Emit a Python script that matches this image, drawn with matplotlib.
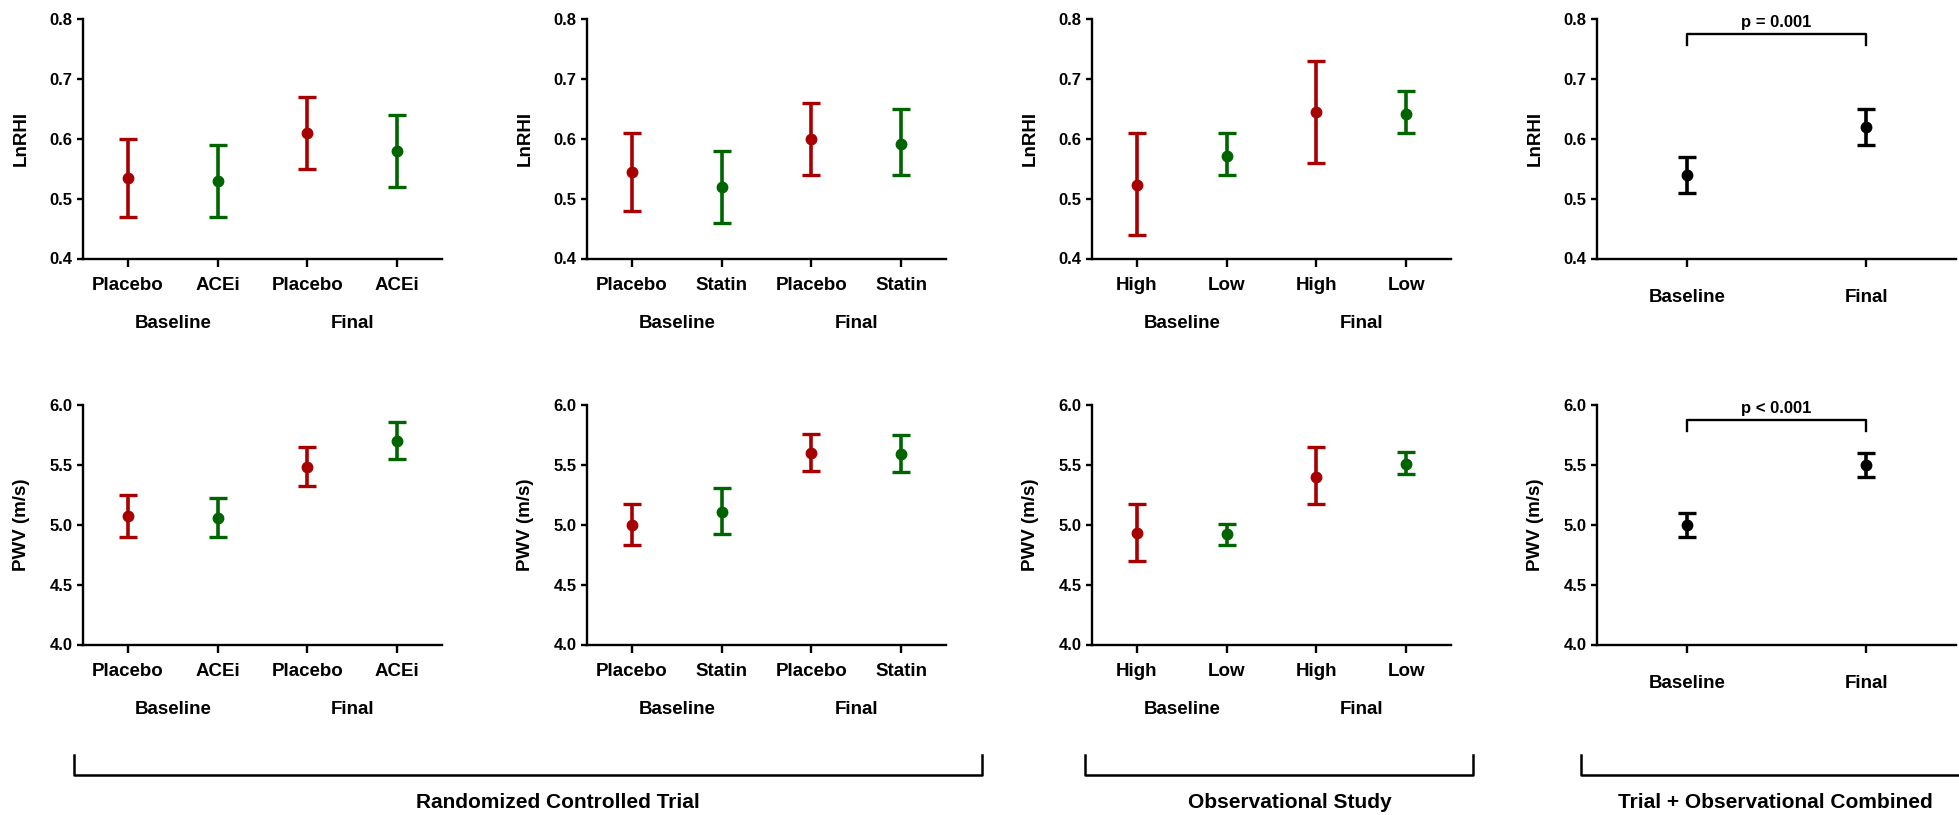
import numpy as np
import matplotlib
matplotlib.use('Agg')
import matplotlib.pyplot as plt
import matplotlib.transforms as mtransforms
from matplotlib.lines import Line2D

plt.rcParams['font.family'] = ['Liberation Sans', 'DejaVu Sans']

# ---------------------------------------------------------------- data
rct1_labels = ['Placebo', 'ACEi', 'Placebo', 'ACEi']
rct1_lnrhi = [0.535, 0.53, 0.61, 0.58]
rct1_lnrhi_lo = [0.47, 0.47, 0.55, 0.52]
rct1_lnrhi_hi = [0.60, 0.59, 0.67, 0.64]
rct1_pwv = [5.07, 5.06, 5.48, 5.70]
rct1_pwv_lo = [4.90, 4.90, 5.32, 5.55]
rct1_pwv_hi = [5.25, 5.22, 5.65, 5.86]

rct2_labels = ['Placebo', 'Statin', 'Placebo', 'Statin']
rct2_lnrhi = [0.545, 0.52, 0.60, 0.592]
rct2_lnrhi_lo = [0.48, 0.46, 0.54, 0.54]
rct2_lnrhi_hi = [0.61, 0.58, 0.66, 0.65]
rct2_pwv = [5.00, 5.11, 5.60, 5.59]
rct2_pwv_lo = [4.83, 4.92, 5.45, 5.44]
rct2_pwv_hi = [5.17, 5.31, 5.76, 5.75]

obs_labels = ['High', 'Low', 'High', 'Low']
obs_lnrhi = [0.523, 0.572, 0.645, 0.642]
obs_lnrhi_lo = [0.44, 0.54, 0.56, 0.61]
obs_lnrhi_hi = [0.61, 0.61, 0.73, 0.68]
obs_pwv = [4.93, 4.92, 5.40, 5.51]
obs_pwv_lo = [4.70, 4.83, 5.17, 5.42]
obs_pwv_hi = [5.17, 5.01, 5.65, 5.61]

comb_labels = ['Baseline', 'Final']
comb_lnrhi = [0.54, 0.62]
comb_lnrhi_lo = [0.51, 0.59]
comb_lnrhi_hi = [0.57, 0.65]
comb_pwv = [5.00, 5.50]
comb_pwv_lo = [4.90, 5.40]
comb_pwv_hi = [5.10, 5.60]
comb_p = ['p = 0.001', 'p < 0.001']

time_groups = ['Baseline', 'Final']
study_groups = ['Randomized Controlled Trial', 'Observational Study',
                'Trial + Observational Combined']

red = '#a80000'
green = '#006400'

# ---------------------------------------------------------------- layout
W, H = 1959, 815
fig = plt.figure(figsize=(W / 100, H / 100), dpi=100)

col_left = [83, 587, 1092, 1597]
col_w = 359
row_top = [19, 405]
row_h = 239.5


def make_ax(col, row):
    l = col_left[col] / W
    b = 1 - (row_top[row] + row_h) / H
    return fig.add_axes([l, b, col_w / W, row_h / H])


def style(ax, ymin, ymax, yticks, fmt):
    for s in ['top', 'right']:
        ax.spines[s].set_visible(False)
    for s in ['left', 'bottom']:
        ax.spines[s].set_linewidth(1.7)
    ax.set_ylim(ymin, ymax)
    ax.set_yticks(yticks)
    ax.set_yticklabels([fmt % v for v in yticks], fontsize=12, fontweight='bold')
    ax.tick_params(axis='y', length=4.5, width=1.7, pad=3)
    ax.yaxis.set_label_coords(-0.148, 0.5)


def panel(ax, labels, mean, lo, hi, colors, ylab, ymin, ymax, yticks, fmt):
    x = np.arange(len(mean))
    for i in range(len(mean)):
        ax.errorbar(x[i], mean[i], yerr=[[mean[i] - lo[i]], [hi[i] - mean[i]]],
                    fmt='o', color=colors[i], ms=7.5, elinewidth=2.6,
                    capsize=6.5, capthick=2.4)
    ax.set_xlim(-0.5, len(mean) - 0.5)
    ax.set_xticks(x)
    ax.set_xticklabels(labels, fontsize=13.5, fontweight='bold')
    ax.tick_params(axis='x', length=6, width=1.7, pad=7)
    style(ax, ymin, ymax, yticks, fmt)
    ax.set_ylabel(ylab, fontsize=13.5, fontweight='bold')
    trans = mtransforms.blended_transform_factory(ax.transData, ax.transAxes)
    for k, g in enumerate(time_groups):
        ax.text(2 * k + 0.5, -0.29, g, transform=trans, ha='center',
                va='baseline', fontsize=13.5, fontweight='bold')


def combined(ax, mean, lo, hi, ylab, ymin, ymax, yticks, fmt, ptext):
    x = np.arange(len(mean))
    ax.errorbar(x, mean, yerr=[np.array(mean) - np.array(lo), np.array(hi) - np.array(mean)],
                fmt='o', color='black', ms=7.5, elinewidth=2.6, capsize=6.5, capthick=2.4,
                ls='none')
    ax.set_xlim(-0.5, 1.5)
    ax.set_xticks(x)
    ax.set_xticklabels(comb_labels, fontsize=13.5, fontweight='bold')
    ax.tick_params(axis='x', length=6, width=1.7, pad=16)
    style(ax, ymin, ymax, yticks, fmt)
    ax.set_ylabel(ylab, fontsize=13.5, fontweight='bold')
    rng = ymax - ymin
    top = ymax - 0.0625 * rng
    end = ymax - 0.11 * rng
    ax.plot([0, 0, 1, 1], [end, top, top, end], color='black', lw=1.7, clip_on=False)
    ax.text(0.5, top + 0.018 * rng, ptext, ha='center', va='bottom',
            fontsize=12, fontweight='bold', clip_on=False)


rg = [red, green, red, green]
lnrhi_ticks = [0.4, 0.5, 0.6, 0.7, 0.8]
pwv_ticks = [4.0, 4.5, 5.0, 5.5, 6.0]

ax = make_ax(0, 0)
panel(ax, rct1_labels, rct1_lnrhi, rct1_lnrhi_lo, rct1_lnrhi_hi, rg, 'LnRHI', 0.4, 0.8, lnrhi_ticks, '%.1f')
ax = make_ax(1, 0)
panel(ax, rct2_labels, rct2_lnrhi, rct2_lnrhi_lo, rct2_lnrhi_hi, rg, 'LnRHI', 0.4, 0.8, lnrhi_ticks, '%.1f')
ax = make_ax(2, 0)
panel(ax, obs_labels, obs_lnrhi, obs_lnrhi_lo, obs_lnrhi_hi, rg, 'LnRHI', 0.4, 0.8, lnrhi_ticks, '%.1f')
ax = make_ax(3, 0)
combined(ax, comb_lnrhi, comb_lnrhi_lo, comb_lnrhi_hi, 'LnRHI', 0.4, 0.8, lnrhi_ticks, '%.1f', comb_p[0])

ax = make_ax(0, 1)
panel(ax, rct1_labels, rct1_pwv, rct1_pwv_lo, rct1_pwv_hi, rg, 'PWV (m/s)', 4.0, 6.0, pwv_ticks, '%.1f')
ax = make_ax(1, 1)
panel(ax, rct2_labels, rct2_pwv, rct2_pwv_lo, rct2_pwv_hi, rg, 'PWV (m/s)', 4.0, 6.0, pwv_ticks, '%.1f')
ax = make_ax(2, 1)
panel(ax, obs_labels, obs_pwv, obs_pwv_lo, obs_pwv_hi, rg, 'PWV (m/s)', 4.0, 6.0, pwv_ticks, '%.1f')
ax = make_ax(3, 1)
combined(ax, comb_pwv, comb_pwv_lo, comb_pwv_hi, 'PWV (m/s)', 4.0, 6.0, pwv_ticks, '%.1f', comb_p[1])

# ---------------------------------------------------------------- study brackets
line_y = 1 - 775 / H
tick_y = 1 - 755 / H
brackets = [(74, 982, True), (1085, 1473, True), (1581, 1959, False)]
label_x = [558, 1290, 1775]
for (x0, x1, right), lx, name in zip(brackets, label_x, study_groups):
    xs = [x0 / W, x0 / W, x1 / W]
    ys = [tick_y, line_y, line_y]
    if right:
        xs.append(x1 / W)
        ys.append(tick_y)
    fig.add_artist(Line2D(xs, ys, color='black', lw=1.8, transform=fig.transFigure))
    fig.text(lx / W, 1 - 808 / H, name, ha='center', va='baseline',
             fontsize=15, fontweight='bold')

plt.savefig('out.png', dpi=100)
